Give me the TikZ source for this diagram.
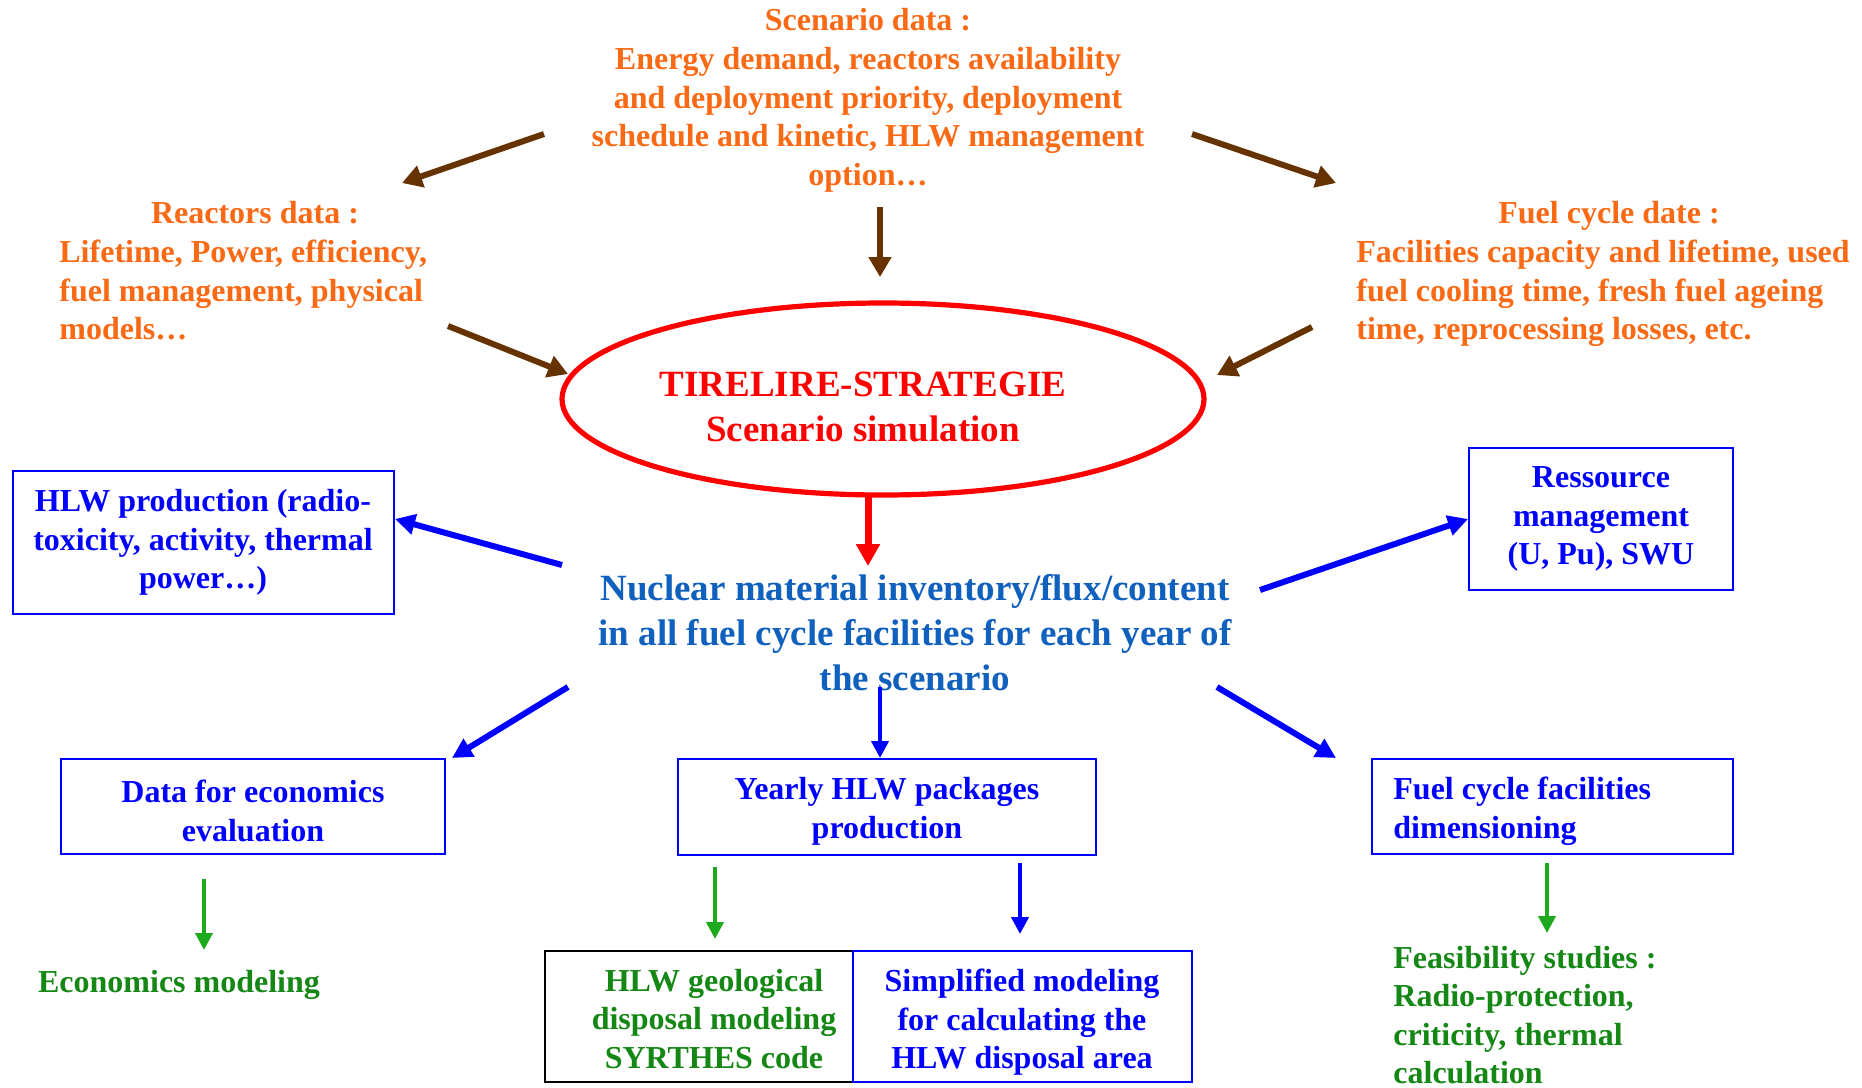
\documentclass[tikz,border=0pt]{standalone}
\usepackage{fontspec}
\setmainfont{Liberation Serif}
\usetikzlibrary{arrows.meta,shapes.geometric}
\definecolor{orng}{RGB}{250,105,20}
\definecolor{brwn}{RGB}{102,51,0}
\definecolor{cblue}{RGB}{16,96,190}
\definecolor{gtext}{RGB}{20,135,20}
\definecolor{garrow}{RGB}{30,170,30}
\begin{document}
\begin{tikzpicture}[x=0.5pt,y=-0.5pt,
  txt/.style={inner sep=0pt, align=center, font={\fontsize{16}{19.3}\selectfont\bfseries}},
  txtL/.style={txt, align=left, anchor=west},
  bigtxt/.style={inner sep=0pt, align=center, font={\fontsize{18.5}{22.5}\selectfont\bfseries}},
  bbox/.style={draw=blue, line width=1pt, rectangle, inner sep=0pt},
  arrBr/.style={draw=brwn, line width=3pt, -{Triangle[length=10pt,width=11pt]}},
  arrRd/.style={draw=red, line width=3.5pt, -{Triangle[length=11pt,width=11.5pt]}},
  arrBl/.style={draw=blue, line width=3pt, -{Triangle[length=10pt,width=10pt]}},
  arrBv/.style={draw=blue, line width=2pt, -{Triangle[length=8.5pt,width=8.5pt]}},
  arrGr/.style={draw=garrow, line width=2pt, -{Triangle[length=8.5pt,width=8.5pt]}}]
\useasboundingbox (0,0) rectangle (1862,1087);
\fill[white] (0,0) rectangle (1862,1087);

% top data texts
\node[txt, text=orng] (scen) at (868,100.5) {Scenario data :\\Energy demand, reactors availability\\and deployment priority, deployment\\schedule and kinetic, HLW management\\option\ldots};
\node[txt, text=orng] (reacT) at (255,213) {Reactors data :};
\node[txtL, text=orng] (reac) at (59,290) {Lifetime, Power, efficiency,\\fuel management, physical\\models\ldots};
\node[txt, text=orng] (fuelT) at (1609,215.5) {Fuel cycle date :};
\node[txtL, text=orng] (fuel) at (1356,293.5) {Facilities capacity and lifetime, used\\fuel cooling time, fresh fuel ageing\\time, reprocessing losses, etc.};

% ellipse
\node[draw=red, line width=2.6pt, ellipse, minimum width=321pt, minimum height=96pt, inner sep=0pt] (ell) at (883,399) {};
\node[bigtxt, text=red] (sim) at (863,407) {TIRELIRE-STRATEGIE\\Scenario simulation};

% central text
\node[bigtxt, text=cblue] (nuc) at (915,633) {Nuclear material inventory/flux/content\\in all fuel cycle facilities for each year of\\the scenario};

% boxes
\node[bbox, minimum width=190.5pt, minimum height=71.5pt] (hlw) at (203.5,542.5) {};
\node[txt, text=blue] (hlwT) at (203,542.5) {HLW production (radio-\\toxicity, activity, thermal\\power\ldots)};
\node[bbox, minimum width=132pt, minimum height=71pt] (res) at (1601,519) {};
\node[txt, text=blue] (resT) at (1601,519) {Ressource\\management\\(U, Pu), SWU};
\node[bbox, minimum width=192pt, minimum height=47.5pt] (eco) at (253,806.5) {};
\node[txt, text=blue] (ecoT) at (253,811) {Data for economics\\evaluation};
\node[bbox, minimum width=209pt, minimum height=48pt] (yr) at (887,807) {};
\node[txt, text=blue] (yrT) at (887,811.5) {Yearly HLW packages\\production};
\node[bbox, minimum width=180.5pt, minimum height=47.5pt] (fcf) at (1552.5,806.5) {};
\node[txtL, text=blue] (fcfT) at (1393,811.5) {Fuel cycle facilities\\dimensioning};

% bottom
\node[draw=black, line width=1pt, rectangle, inner sep=0pt, minimum width=154pt, minimum height=65.5pt] (geo) at (699,1016.5) {};
\node[bbox, minimum width=169.5pt, minimum height=65.5pt] (simp) at (1022.5,1016.5) {};
\node[txt, text=gtext] (geoT) at (714,1019) {HLW geological\\disposal modeling\\SYRTHES code};
\node[txt, text=blue] (simpT) at (1022,1022.5) {Simplified modeling\\for calculating the\\HLW disposal area};
\node[txt, text=gtext] (ecm) at (179,984.5) {Economics modeling};
\node[txtL, text=gtext] (feas) at (1393,1015) {Feasibility studies :\\Radio-protection,\\criticity, thermal\\calculation};

% connector end points
\coordinate (a1s) at (544,134);  \coordinate (a1e) at (402,183);
\coordinate (a2s) at (1192,134); \coordinate (a2e) at (1336,183);
\coordinate (a3s) at (880,207);  \coordinate (a3e) at (880,277);
\coordinate (a4s) at (448,326);  \coordinate (a4e) at (568,374);
\coordinate (a5s) at (1312,327); \coordinate (a5e) at (1217,375);
\coordinate (r1s) at (868,493);  \coordinate (r1e) at (868,566);
\coordinate (b1s) at (562,565);  \coordinate (b1e) at (395,519);
\coordinate (b2s) at (1260,590); \coordinate (b2e) at (1468,519);
\coordinate (b3s) at (568,687);  \coordinate (b3e) at (452,758);
\coordinate (b4s) at (880,687);  \coordinate (b4e) at (880,758);
\coordinate (b5s) at (1217,687); \coordinate (b5e) at (1336,758);
\coordinate (b6s) at (1020,863); \coordinate (b6e) at (1020,934);
\coordinate (g1s) at (204,879);  \coordinate (g1e) at (204,950);
\coordinate (g2s) at (715,867);  \coordinate (g2e) at (715,939);
\coordinate (g3s) at (1547,863); \coordinate (g3e) at (1547,933);

\draw[arrBr] (a1s) -- (a1e);
\draw[arrBr] (a2s) -- (a2e);
\draw[arrBr] (a3s) -- (a3e);
\draw[arrBr] (a4s) -- (a4e);
\draw[arrBr] (a5s) -- (a5e);
\draw[arrRd] (r1s) -- (r1e);
\draw[arrBl] (b1s) -- (b1e);
\draw[arrBl] (b2s) -- (b2e);
\draw[arrBl] (b3s) -- (b3e);
\draw[arrBv] (b4s) -- (b4e);
\draw[arrBl] (b5s) -- (b5e);
\draw[arrBv] (b6s) -- (b6e);
\draw[arrGr] (g1s) -- (g1e);
\draw[arrGr] (g2s) -- (g2e);
\draw[arrGr] (g3s) -- (g3e);
\end{tikzpicture}
\end{document}
